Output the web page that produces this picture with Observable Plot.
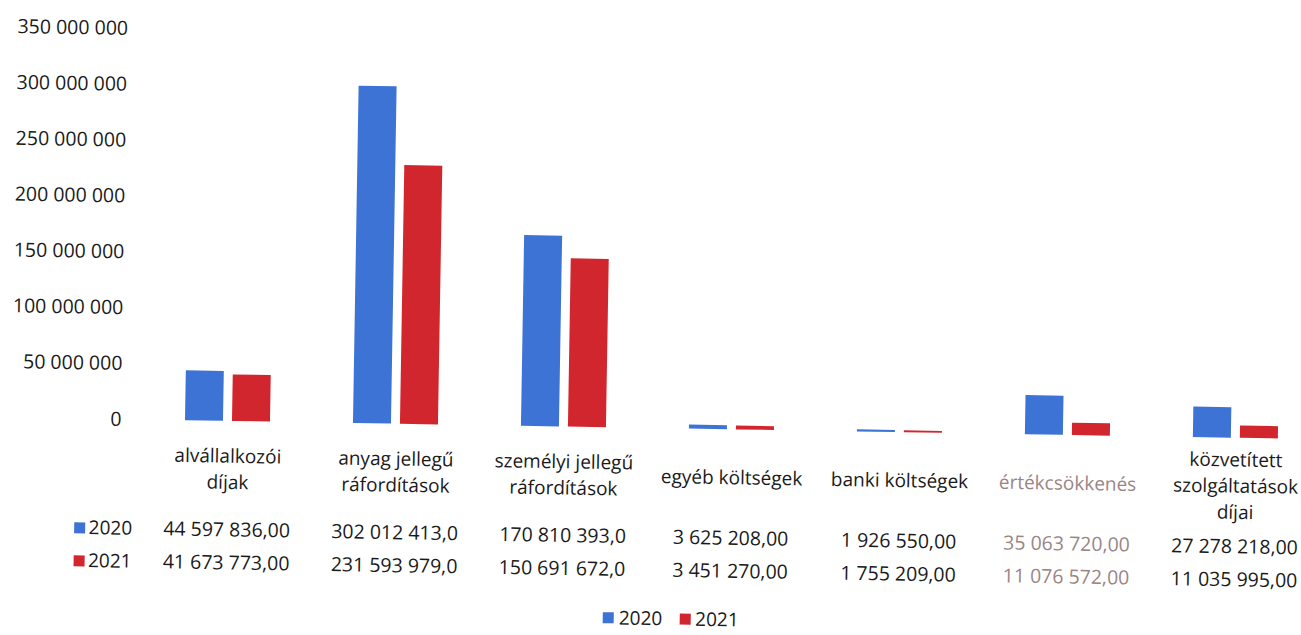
<!DOCTYPE html>
<html><head><meta charset="utf-8">
<script src="https://cdn.jsdelivr.net/npm/d3@7"></script>
<script src="https://cdn.jsdelivr.net/npm/@observablehq/plot@0.6"></script>
<style>
html,body{margin:0;padding:0;background:#fff;overflow:hidden;width:1301px;height:635px}
#wrap{position:absolute;left:0;top:0;width:1340px;height:640px;transform:rotate(0.96deg);transform-origin:0 0;font-family:"Open Sans",sans-serif}
#chart{position:absolute;left:0;top:0}
#legend{position:absolute;left:0;top:594px;width:1362px;height:26px;display:flex;justify-content:center;align-items:center;gap:17px;font-size:19px;line-height:22px;color:#1a1a1a}
#legend span{display:inline-flex;align-items:center}
#legend i{display:inline-block;width:11px;height:11px;margin-right:5px}
</style></head>
<body>
<div id="wrap"><div id="chart"></div><div id="legend"></div></div>
<script>
const categories = ["alvállalkozói\ndíjak", "anyag jellegű\nráfordítások", "személyi jellegű\nráfordítások", "egyéb költségek", "banki költségek", "értékcsökkenés", "közvetített\nszolgáltatások\ndíjai"];
const years = ["2020", "2021"];
const values2020 = [44597836.00, 302012413.0, 170810393.0, 3625208.00, 1926550.00, 35063720.00, 27278218.00];
const values2021 = [41673773.00, 231593979.0, 150691672.0, 3451270.00, 1755209.00, 11076572.00, 11035995.00];
const yTicks = [0, 50000000, 100000000, 150000000, 200000000, 250000000, 300000000, 350000000];
const colors = ["#3d73d4", "#d2262f"];
const mutedCategory = "értékcsökkenés";

const hu = d3.formatLocale({decimal: ",", thousands: "\u00a0", grouping: [3], currency: ["", ""]});
const fmtInt = hu.format(",d");
const fmtVal = v => v >= 1e8 ? hu.format(",.1f")(v) : hu.format(",.2f")(v);

const data = categories.flatMap((c, i) => [
  {cat: c, year: years[0], value: values2020[i]},
  {cat: c, year: years[1], value: values2021[i]}
]);
const table = categories.map((c, i) => ({cat: c, v2020: values2020[i], v2021: values2021[i]}));
const textColor = c => c === mutedCategory ? "#9a8585" : "#1a1a1a";
const rowDy = {"2020": 115, "2021": 148};

const rowMarks = years.flatMap((yr, k) => [
  Plot.dot([yr], {fx: () => categories[0], symbol: "square", r: 6.2, fill: colors[k], frameAnchor: "bottom-left", dx: -67, dy: rowDy[yr] - 6}),
  Plot.text([yr], {fx: () => categories[0], text: d => d, frameAnchor: "bottom-left", textAnchor: "start", dx: -58, dy: rowDy[yr], fontSize: 19, fill: "#1a1a1a"})
]);

const plot = Plot.plot({
  width: 1327, height: 600,
  marginLeft: 150, marginRight: 0, marginTop: 26, marginBottom: 183,
  style: {fontFamily: "'Open Sans', sans-serif", background: "transparent", color: "#1a1a1a", overflow: "visible"},
  fx: {domain: categories, paddingInner: 0.05, paddingOuter: 0.025, axis: null, label: null},
  x: {domain: years, axis: null, paddingInner: 0.19, paddingOuter: 0.795},
  y: {domain: [0, 350000000], axis: null},
  color: {domain: years, range: colors},
  marks: [
    Plot.axisY({ticks: yTicks, tickFormat: fmtInt, tickSize: 0, tickPadding: 27, fontSize: 19.5, label: null, fill: "#1a1a1a"}),
    Plot.barY(data, {fx: "cat", x: "year", y: "value", fill: "year"}),
    Plot.text(table, {fx: "cat", text: "cat", frameAnchor: "bottom", dy: 46, lineAnchor: "middle", lineHeight: 1.38, fontSize: 19, fill: d => textColor(d.cat)}),
    Plot.text(table, {fx: "cat", text: d => fmtVal(d.v2020), frameAnchor: "bottom", dy: rowDy["2020"], fontSize: 19.5, fill: d => textColor(d.cat)}),
    Plot.text(table, {fx: "cat", text: d => fmtVal(d.v2021), frameAnchor: "bottom", dy: rowDy["2021"], fontSize: 19.5, fill: d => textColor(d.cat)}),
    ...rowMarks
  ]
});
document.getElementById("chart").appendChild(plot);

const legend = document.getElementById("legend");
years.forEach((yr, k) => {
  const s = document.createElement("span");
  const sw = document.createElement("i");
  sw.style.background = colors[k];
  s.appendChild(sw);
  s.appendChild(document.createTextNode(yr));
  legend.appendChild(s);
});
</script>
</body></html>
